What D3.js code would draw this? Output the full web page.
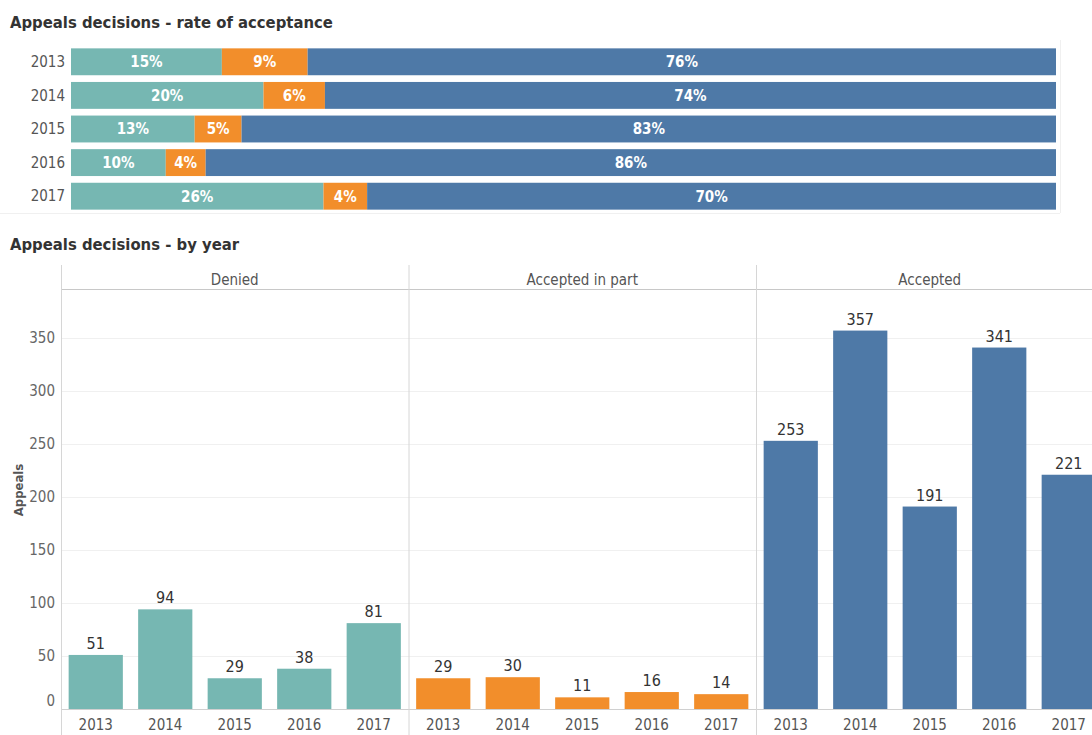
<!DOCTYPE html>
<html>
<head>
<meta charset="utf-8">
<script src="https://cdn.jsdelivr.net/npm/d3@7"></script>
<style>
  body { margin: 0; background: #fff; }
  svg { display: block; font-family: "DejaVu Sans Condensed", "DejaVu Sans", sans-serif; }
</style>
</head>
<body>
<svg id="chart" width="1092" height="735"></svg>
<script>
// data
const years = ["2013", "2014", "2015", "2016", "2017"]
const decisions = ["Denied", "Accepted in part", "Accepted"]
const denied = [51, 94, 29, 38, 81]
const acceptedInPart = [29, 30, 11, 16, 14]
const accepted = [253, 357, 191, 341, 221]
const yTicks = [0, 50, 100, 150, 200, 250, 300, 350]
const colors = ["#76b7b2", "#f28e2b", "#4e79a7"]

const series = [denied, acceptedInPart, accepted]
const svg = d3.select("#chart")

// ---- top chart: share per year ----
svg.append("text")
  .attr("x", 10).attr("y", 28)
  .attr("font-size", 16.5).attr("font-weight", "bold").attr("fill", "#333")
  .text("Appeals decisions - rate of acceptance")

let rows = years.map((yr, i) => {
  let total = d3.sum(series, s => s[i])
  let x0 = 0
  let segs = series.map((s, k) => {
    let share = s[i] / total
    let seg = { k: k, x0: x0, x1: x0 + share, share: share }
    x0 += share
    return seg
  })
  return { year: yr, segs: segs }
})

let xTop = d3.scaleLinear().domain([0, 1]).range([71, 1056])
let yTop = d3.scaleBand().domain(years).range([45, 213]).paddingInner(0.2).paddingOuter(0.1)

let rowG = svg.append("g").selectAll("g")
  .data(rows)
  .join("g")
  .attr("transform", d => "translate(0," + yTop(d.year) + ")")

rowG.append("text")
  .attr("x", 65).attr("y", yTop.bandwidth() / 2)
  .attr("dy", "0.35em").attr("text-anchor", "end")
  .attr("font-size", 15).attr("fill", "#555")
  .text(d => d.year)

rowG.selectAll("rect")
  .data(d => d.segs)
  .join("rect")
  .attr("x", d => xTop(d.x0))
  .attr("width", d => xTop(d.x1) - xTop(d.x0))
  .attr("height", yTop.bandwidth())
  .attr("fill", d => colors[d.k])

rowG.selectAll("text.pct")
  .data(d => d.segs)
  .join("text")
  .attr("class", "pct")
  .attr("x", d => (xTop(d.x0) + xTop(d.x1)) / 2)
  .attr("y", yTop.bandwidth() / 2)
  .attr("dy", "0.36em").attr("text-anchor", "middle")
  .attr("font-size", 15).attr("font-weight", "bold").attr("fill", "#fff")
  .text(d => Math.round(d.share * 100) + "%")

// faint frame around top chart
svg.append("line").attr("x1", 0).attr("x2", 1060).attr("y1", 213.5).attr("y2", 213.5)
  .attr("stroke", "#f0f0f0")
svg.append("line").attr("x1", 1060.5).attr("x2", 1060.5).attr("y1", 40).attr("y2", 213)
  .attr("stroke", "#f0f0f0")

// ---- bottom chart: counts per decision and year ----
svg.append("text")
  .attr("x", 10).attr("y", 250)
  .attr("font-size", 16.5).attr("font-weight", "bold").attr("fill", "#333")
  .text("Appeals decisions - by year")

const panelW = 347.5
const left = 61
const y = d3.scaleLinear().domain([0, 350]).range([709, 338])

// gridlines
svg.append("g").selectAll("line")
  .data(yTicks.filter(t => t > 0))
  .join("line")
  .attr("x1", left).attr("x2", 1092)
  .attr("y1", d => Math.round(y(d)) + 0.5).attr("y2", d => Math.round(y(d)) + 0.5)
  .attr("stroke", "#f0f0f0")

// y axis ticks
svg.append("g").selectAll("text")
  .data(yTicks)
  .join("text")
  .attr("x", 55)
  .attr("y", d => d === 0 ? y(d) - 8 : y(d))
  .attr("dy", "0.35em").attr("text-anchor", "end")
  .attr("font-size", 15).attr("fill", "#666")
  .text(d => d)

svg.append("text")
  .attr("transform", "translate(23,490) rotate(-90)")
  .attr("text-anchor", "middle")
  .attr("font-size", 13).attr("font-weight", "bold").attr("fill", "#555")
  .text("Appeals")

let xPanel = d3.scaleBand().domain(decisions).range([left, left + panelW * 3])
let xBar = d3.scaleBand().domain(years).range([0, panelW]).paddingInner(0.22).paddingOuter(0.11)

// header + baseline lines
svg.append("line").attr("x1", left).attr("x2", 1092).attr("y1", 289.5).attr("y2", 289.5)
  .attr("stroke", "#c8c8c8")
svg.append("line").attr("x1", left).attr("x2", 1092).attr("y1", 709.5).attr("y2", 709.5)
  .attr("stroke", "#d0d0d0")

let panels = svg.append("g").selectAll("g")
  .data(decisions)
  .join("g")
  .attr("transform", d => "translate(" + xPanel(d) + ",0)")

panels.append("line")
  .attr("x1", 0.5).attr("x2", 0.5).attr("y1", 265).attr("y2", 735)
  .attr("stroke", "#d6d6d6")

panels.append("text")
  .attr("x", panelW / 2).attr("y", 280)
  .attr("dy", "0.35em").attr("text-anchor", "middle")
  .attr("font-size", 15).attr("fill", "#555")
  .text(d => d)

panels.each(function (dec, k) {
  let g = d3.select(this)
  let vals = years.map((yr, i) => ({ year: yr, v: series[k][i] }))

  g.selectAll("rect")
    .data(vals)
    .join("rect")
    .attr("x", d => xBar(d.year))
    .attr("y", d => y(d.v))
    .attr("width", xBar.bandwidth())
    .attr("height", d => y(0) - y(d.v))
    .attr("fill", colors[k])

  g.selectAll("text.val")
    .data(vals)
    .join("text")
    .attr("class", "val")
    .attr("x", d => xBar(d.year) + xBar.bandwidth() / 2)
    .attr("y", d => y(d.v) - 6)
    .attr("text-anchor", "middle")
    .attr("font-size", 16).attr("fill", "#333")
    .text(d => d.v)

  g.selectAll("text.yr")
    .data(vals)
    .join("text")
    .attr("class", "yr")
    .attr("x", d => xBar(d.year) + xBar.bandwidth() / 2)
    .attr("y", 725)
    .attr("dy", "0.35em").attr("text-anchor", "middle")
    .attr("font-size", 15).attr("fill", "#555")
    .text(d => d.year)
})
</script>
</body>
</html>
